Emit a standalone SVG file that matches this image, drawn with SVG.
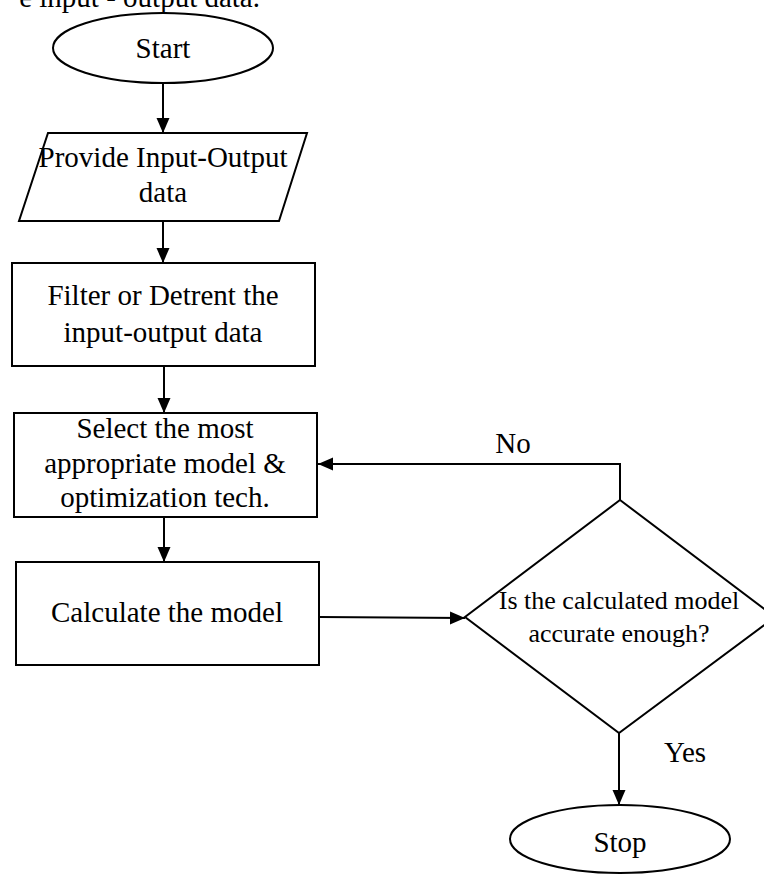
<svg xmlns="http://www.w3.org/2000/svg" width="764" height="874" viewBox="0 0 764 874">
<defs>
<style>
.s{fill:#fff;stroke:#000;stroke-width:2}
.c{fill:none;stroke:#000;stroke-width:2}
text{font-family:"Liberation Serif","Times New Roman",serif;font-size:29px;fill:#000;text-anchor:middle}
.d{font-size:26px}
</style>
<marker id="ah" markerUnits="userSpaceOnUse" markerWidth="16" markerHeight="14" refX="15" refY="6.5" orient="auto">
<path d="M0,0 L15,6.5 L0,13 Z" fill="#000"/>
</marker>
</defs>
<rect width="764" height="874" fill="#fff"/>
<text x="260" y="7" style="text-anchor:end">e input - output data.</text>
<g id="connectors">
<path class="c" d="M163,83 V133" marker-end="url(#ah)"/>
<path class="c" d="M163,221 V263" marker-end="url(#ah)"/>
<path class="c" d="M164,366 V413" marker-end="url(#ah)"/>
<path class="c" d="M164,517 V562" marker-end="url(#ah)"/>
<path class="c" d="M319,617 L465,618" marker-end="url(#ah)"/>
<path class="c" d="M620,500 V464 H318" marker-end="url(#ah)"/>
<path class="c" d="M619,733 V805" marker-end="url(#ah)"/>
<text x="513" y="453">No</text>
<text x="685" y="762">Yes</text>
</g>
<g id="start">
<ellipse class="s" cx="163" cy="48" rx="110" ry="35"/>
<text x="163" y="58">Start</text>
</g>
<g id="input">
<polygon class="s" points="48,133 307,133 279,221 19,221"/>
<text x="163" y="167">Provide Input-Output</text>
<text x="163" y="202">data</text>
</g>
<g id="filter">
<rect class="s" x="12" y="263" width="303" height="103"/>
<text x="163" y="305">Filter or Detrent the</text>
<text x="163" y="342">input-output data</text>
</g>
<g id="select">
<rect class="s" x="14" y="413" width="303" height="104"/>
<text x="165" y="438">Select the most</text>
<text x="165" y="473">appropriate model &amp;</text>
<text x="165" y="507">optimization tech.</text>
</g>
<g id="calculate">
<rect class="s" x="16" y="562" width="303" height="103"/>
<text x="167" y="622">Calculate the model</text>
</g>
<g id="decision">
<polygon class="s" points="620,500 775,617 619,733 465,617"/>
<text class="d" x="619" y="609">Is the calculated model</text>
<text class="d" x="619" y="642">accurate enough?</text>
</g>
<g id="stop">
<ellipse class="s" cx="620" cy="839" rx="110" ry="34"/>
<text x="620" y="852">Stop</text>
</g>
</svg>
